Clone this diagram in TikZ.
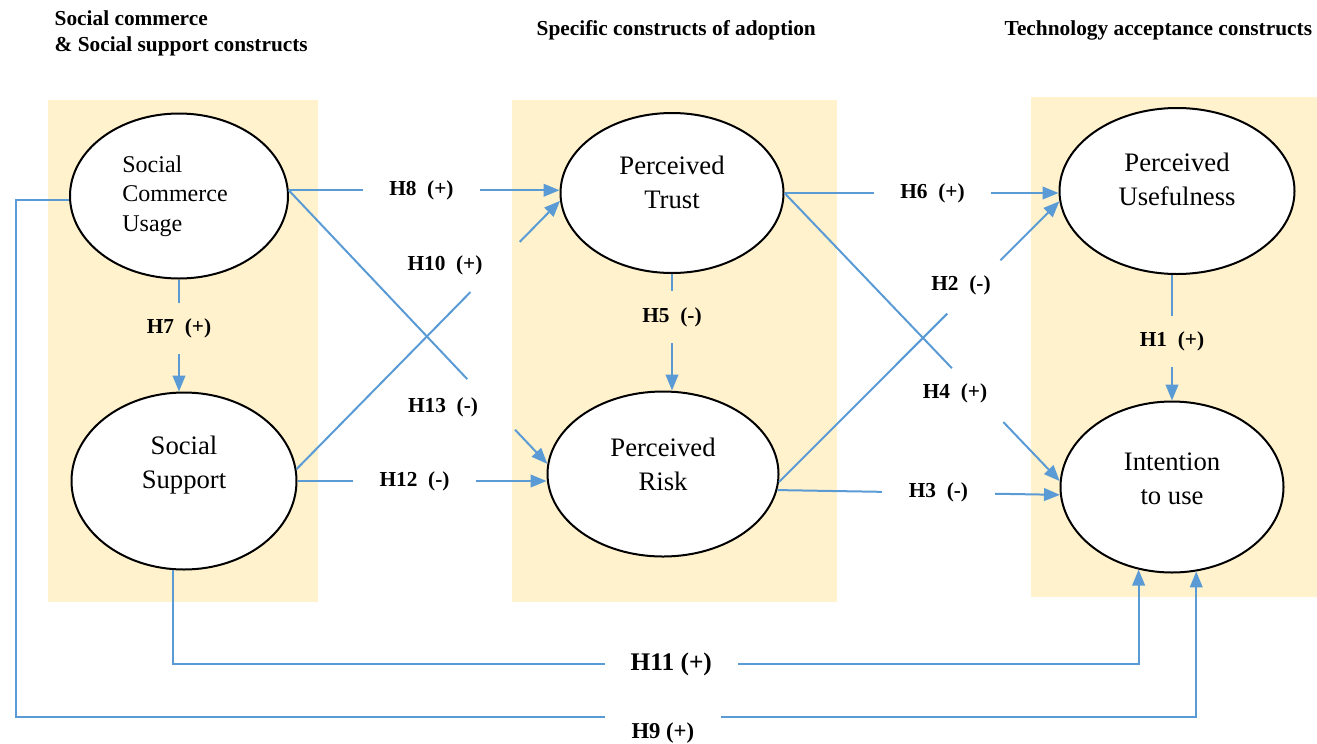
\documentclass[tikz,border=0pt]{standalone}
\usepackage{fontspec}
\setmainfont{Liberation Serif}
\usetikzlibrary{positioning,shapes.geometric,arrows.meta}
\definecolor{peach}{HTML}{FFF2CC}
\definecolor{linkblue}{HTML}{5B9BD5}
\newcommand*{\hyplbl}[2]{\textbf{#1\enspace(#2)}}

\tikzset{
  construct/.style={draw,ellipse,line width=1.5pt,fill=white,inner sep=0pt},
  cname/.style={align=center,font=\fontsize{20}{25.5}\selectfont},
  conn/.style={draw=linkblue,line width=1.5pt},
  arr/.style={conn,-{Triangle[length=12pt,width=9.5pt]}},
  hyp/.style={font=\fontsize{16}{18}\selectfont,fill=white,inner xsep=20pt,inner ysep=3pt},
  vhyp/.style={font=\fontsize{16}{18}\selectfont,fill=peach,inner xsep=4pt,inner ysep=12pt},
  dhyp/.style={font=\fontsize{16}{18}\selectfont},
  head/.style={font=\bfseries\fontsize{16}{20}\selectfont,align=left,anchor=west}
}

\begin{document}
\begin{tikzpicture}[x=0.75pt,y=-0.75pt]
\useasboundingbox (0,0) rectangle (1317,743);
% Shaded columns
\fill[peach] (48,100) rectangle (318,602);
\fill[peach] (512,100) rectangle (837,602);
\fill[peach] (1031,97) rectangle (1317,597);
% Column headings
\node[head] (hleft) at (50,33.5) {Social commerce\\\& Social support constructs};
\node[head] (hmid) at (532,30) {Specific constructs of adoption};
\node[head] (hright) at (1000,30) {Technology acceptance constructs};
% Constructs (text sits a little above the centre)
\node[construct,minimum width=163.5pt,minimum height=123.75pt,
  label={[align=left,font=\fontsize{18}{22}\selectfont,xshift=-3pt]center:{Social\\Commerce\\Usage}}] (scu) at (179,196) {};
\node[construct,minimum width=168.75pt,minimum height=132.75pt,
  label={[cname,yshift=12pt]center:{Social\\Support}}] (ss) at (184,481) {};
\node[construct,minimum width=167.25pt,minimum height=120pt,
  label={[cname,yshift=8pt]center:{Perceived\\Trust}}] (trust) at (672,193) {};
\node[construct,minimum width=173.25pt,minimum height=123.75pt,
  label={[cname,yshift=7pt]center:{Perceived\\Risk}}] (risk) at (663,474) {};
\node[construct,minimum width=176.25pt,minimum height=124.5pt,
  label={[cname,yshift=9pt]center:{Perceived\\Usefulness}}] (pu) at (1177,191) {};
\node[construct,minimum width=167.25pt,minimum height=128.25pt,
  label={[cname,yshift=6pt]center:{Intention\\to use}}] (itu) at (1172,487) {};

% Straight links with the label in a gap
\draw[arr] (scu.3) -- node[hyp,pos=.49] (l8) {\hyplbl{H8}{+}} (scu.3 -| trust.west);
\draw[arr] (ss.east) -- node[hyp,pos=.47] (l12) {\hyplbl{H12}{-}} (ss.east -| risk.west);
\draw[arr] (trust.east) -- node[hyp,pos=.54] (l6) {\hyplbl{H6}{+}} (trust.east -| pu.west);
\draw[arr] (risk.352) -- node[hyp,pos=.57] (l3) {\hyplbl{H3}{-}} (itu.184);
\draw[arr] (scu.south) -- node[vhyp,pos=.44] (l7) {\hyplbl{H7}{+}} (scu.south |- ss.north);
\draw[arr] (trust.south) -- node[vhyp,pos=.37] (l5) {\hyplbl{H5}{-}} (trust.south |- risk.north);
\draw[arr] (itu.north |- pu.south) -- node[vhyp,pos=.53] (l1) {\hyplbl{H1}{+}} (itu.north);

% Crossing links, broken where the label stands
\path (scu.3) -- (risk.175) coordinate[pos=.69] (h13a) coordinate[pos=.875] (h13b);
\draw[conn] (scu.3) -- (h13a);
\draw[arr] (h13b) -- (risk.175);
\node[dhyp] (l13) at (443,407) {\hyplbl{H13}{-}};

\path (ss.6) -- (trust.184) coordinate[pos=.66] (h10a) coordinate[pos=.847] (h10b);
\draw[conn] (ss.6) -- (h10a);
\draw[arr] (h10b) -- (trust.184);
\node[dhyp] (l10) at (445,265) {\hyplbl{H10}{+}};

\path (trust.east) -- (itu.177) coordinate[pos=.608] (h4a) coordinate[pos=.795] (h4b);
\draw[conn] (trust.east) -- (h4a);
\draw[arr] (h4b) -- (itu.177);
\node[dhyp] (l4) at (955,393) {\hyplbl{H4}{+}};

\path (risk.356) -- (pu.185) coordinate[pos=.60] (h2a) coordinate[pos=.79] (h2b);
\draw[conn] (risk.356) -- (h2a);
\draw[arr] (h2b) -- (pu.185);
\node[dhyp] (l2) at (961,285) {\hyplbl{H2}{-}};

% Long links round the bottom
\draw[arr] (ss.263) -- ++(0,94) -| node[pos=.258,fill=white,inner xsep=19.5pt,inner ysep=3pt,
  font=\bfseries\fontsize{19}{22}\selectfont] (l11) {H11 (+)} (itu.248);
\draw[arr] (scu.182) -- ++(-53,0) -- ++(0,517) -| node[pos=.274,fill=white,inner xsep=20pt,
  inner ysep=0pt,text height=19pt,text depth=0pt,anchor=base,yshift=-16.5pt,
  font=\bfseries\fontsize{17}{20}\selectfont] (l9) {H9 (+)} (itu.286);
\end{tikzpicture}
\end{document}
